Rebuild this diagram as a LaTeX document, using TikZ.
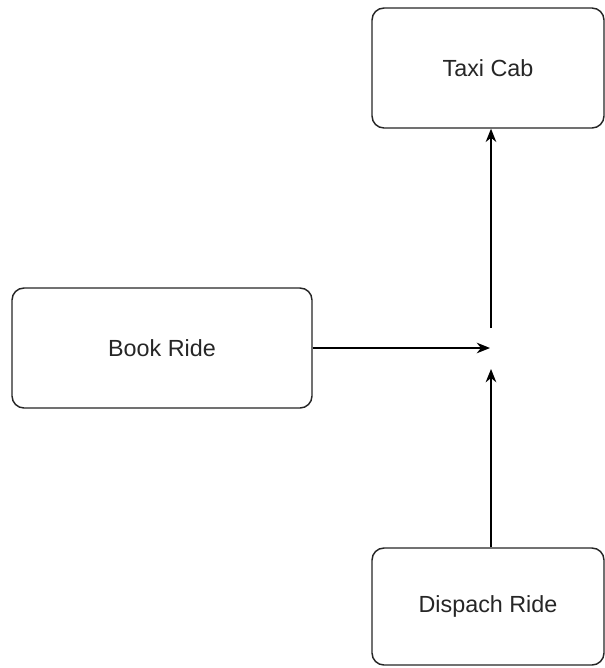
\documentclass[tikz,border=0pt]{standalone}
\usepackage{fontspec}
\setmainfont{Liberation Sans}
\usetikzlibrary{arrows.meta}
\begin{document}
\begin{tikzpicture}[x=0.75pt,y=-0.75pt,
  box/.style={draw=black!85, line width=1.1pt, rounded corners=9pt, fill=white,
    inner sep=0pt, text=black!85, font=\fontsize{17.5}{20}\selectfont},
  conn/.style={draw=black, line width=1.1pt, -{Stealth[length=10pt,width=8pt]}}]
\useasboundingbox (0,0) rectangle (605,668);
\node[box, minimum width=232*0.75pt, minimum height=120*0.75pt] (taxi) at (488,68) {Taxi Cab};
\node[box, minimum width=300*0.75pt, minimum height=120*0.75pt] (book) at (162,348) {Book Ride};
\node[box, minimum width=232*0.75pt, minimum height=117*0.75pt] (disp) at (488,606.5) {Dispach Ride};
\coordinate (hubL) at (490,348);
\coordinate (hubB) at (491,369);
\coordinate (hubT) at (491,328);
\draw[conn] (book.east) -- (hubL);
\draw[conn] (disp.north -| hubB) -- (hubB);
\draw[conn] (hubT) -- (taxi.south -| hubT);
\end{tikzpicture}
\end{document}
